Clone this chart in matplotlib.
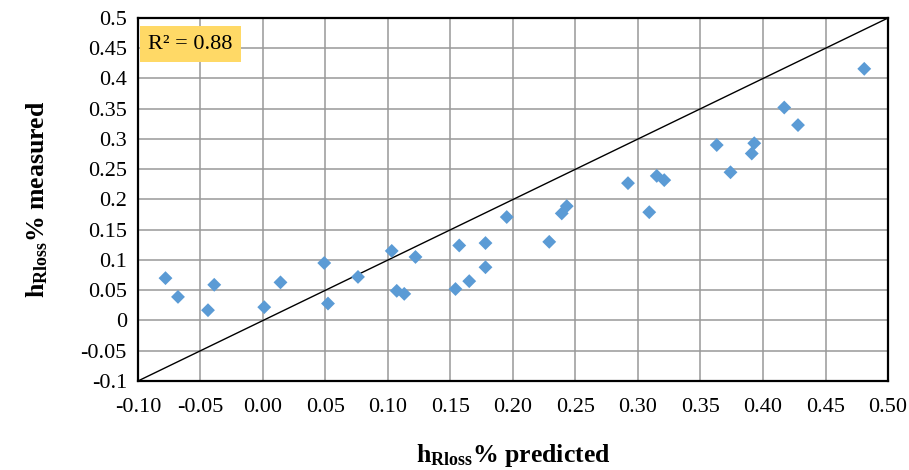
import matplotlib.pyplot as plt
import numpy as np

# Data
predicted = [-0.078, -0.068, -0.044, -0.039, 0.001, 0.014, 0.049, 0.052, 0.076,
             0.103, 0.107, 0.113, 0.122, 0.154, 0.157, 0.165, 0.178, 0.178,
             0.195, 0.229, 0.239, 0.243, 0.292, 0.309, 0.315, 0.321, 0.363,
             0.374, 0.391, 0.393, 0.417, 0.428, 0.481]
measured = [0.070, 0.039, 0.017, 0.059, 0.022, 0.063, 0.095, 0.028, 0.072,
            0.115, 0.049, 0.044, 0.105, 0.052, 0.124, 0.065, 0.128, 0.088,
            0.171, 0.130, 0.177, 0.189, 0.227, 0.179, 0.239, 0.232, 0.290,
            0.245, 0.276, 0.293, 0.352, 0.323, 0.416]
x_ticks = [-0.10, -0.05, 0.00, 0.05, 0.10, 0.15, 0.20, 0.25, 0.30, 0.35, 0.40, 0.45, 0.50]
y_ticks = [-0.1, -0.05, 0, 0.05, 0.1, 0.15, 0.2, 0.25, 0.3, 0.35, 0.4, 0.45, 0.5]
y_labels = ["-0.1", "-0.05", "0", "0.05", "0.1", "0.15", "0.2", "0.25", "0.3",
            "0.35", "0.4", "0.45", "0.5"]
r2_text = "R² = 0.88"

plt.rcParams["font.family"] = "Liberation Serif"
plt.rcParams["mathtext.fontset"] = "custom"
plt.rcParams["mathtext.rm"] = "Liberation Serif"
plt.rcParams["mathtext.bf"] = "Liberation Serif:bold"

fig = plt.figure(figsize=(9.09, 4.70), dpi=100)
ax = fig.add_axes([0.1518, 0.1894, 0.8251, 0.7723])

# 1:1 line
ax.plot([-0.1, 0.5], [-0.1, 0.5], color="black", lw=1.0, zorder=2)
ax.scatter(predicted, measured, marker="D", s=50, color="#5B9BD5",
           edgecolors="none", zorder=3)

ax.set_xlim(-0.1, 0.5)
ax.set_ylim(-0.1, 0.5)
ax.set_xticks(x_ticks)
ax.set_xticklabels(["%.2f" % v for v in x_ticks])
ax.set_yticks(y_ticks)
ax.set_yticklabels(y_labels)
ax.tick_params(length=0, labelsize=16)
ax.tick_params(axis="x", pad=12)
ax.tick_params(axis="y", pad=8)
ax.grid(True, color="#999999", lw=1.1)
ax.set_axisbelow(True)
for s in ax.spines.values():
    s.set_linewidth(1.6)
    s.set_color("black")

ax.set_xlabel(r"$\mathbf{h_{Rloss}}$% predicted", fontsize=18.5, fontweight="bold", labelpad=18)
ax.set_ylabel(r"$\mathbf{h_{Rloss}}$% measured", fontsize=18.5, fontweight="bold", labelpad=22)

ax.text(0.014, 0.928, r2_text, transform=ax.transAxes, fontsize=16, va="center",
        bbox=dict(boxstyle="square,pad=0.38", fc="#FFD966", ec="none"))

fig.savefig("out.png", dpi=100)
